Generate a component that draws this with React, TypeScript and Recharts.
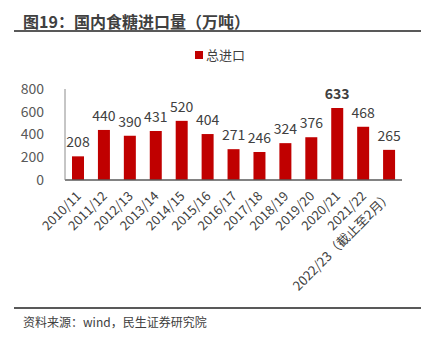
import { BarChart, Bar, XAxis, YAxis, LabelList, Legend } from 'recharts'

const seasons = [
  '2010/11', '2011/12', '2012/13', '2013/14', '2014/15', '2015/16', '2016/17',
  '2017/18', '2018/19', '2019/20', '2020/21', '2021/22', '2022/23（截止至2月）',
]
const imports = [208, 440, 390, 431, 520, 404, 271, 246, 324, 376, 633, 468, 265]
const yTicks = [0, 200, 400, 600, 800]

const data = seasons.map((season, i) => ({ season, imports: imports[i] }))

const FONT = '"Noto Sans CJK SC", "Noto Sans", sans-serif'

function SeasonTick({ x, y, payload }: any) {
  return (
    <text
      x={x + 4}
      y={y + 9}
      textAnchor="end"
      fontSize={13}
      fill="#404040"
      fontFamily={FONT}
      transform={`rotate(-45, ${x + 4}, ${y + 9})`}
    >
      {payload.value}
    </text>
  )
}

function ValueLabel({ x, y, width, value }: any) {
  const peak = value === Math.max(...imports)
  return (
    <text
      x={x + width / 2}
      y={y - 9}
      textAnchor="middle"
      fontSize={14}
      fontWeight={peak ? 700 : 400}
      fill="#404040"
      fontFamily={FONT}
    >
      {value}
    </text>
  )
}

function LegendBox() {
  return (
    <div style={{ display: 'flex', alignItems: 'center', justifyContent: 'center', paddingLeft: 10, fontSize: 13, color: '#404040', fontFamily: FONT }}>
      <span style={{ display: 'inline-block', width: 8, height: 8, background: '#C00000', marginRight: 3 }} />
      总进口
    </div>
  )
}

export default function App() {
  return (
    <div style={{ position: 'absolute', left: 0, top: 0, width: 430, height: 339, background: '#fff', fontFamily: FONT }}>
      <div style={{ position: 'absolute', left: 23, top: 9, fontSize: 16, fontWeight: 700, color: '#404040', whiteSpace: 'nowrap' }}>
        图19：国内食糖进口量（万吨）
      </div>
      <div style={{ position: 'absolute', left: 14, top: 30, width: 407, height: 2, background: '#595959' }} />
      <div style={{ position: 'absolute', left: 0, top: 0 }}>
        <BarChart width={430} height={300} data={data} margin={{ top: 70, right: 28, left: 0, bottom: 0 }}>
          <Legend content={<LegendBox />} verticalAlign="top" wrapperStyle={{ top: 45, left: 0, width: 430 }} />
          <XAxis
            dataKey="season"
            interval={0}
            height={120}
            tick={<SeasonTick />}
            tickLine={false}
            axisLine={{ stroke: '#595959', strokeWidth: 1.5 }}
          />
          <YAxis
            width={65}
            domain={[0, 800]}
            ticks={yTicks}
            tick={{ fontSize: 14, fill: '#595959', fontFamily: FONT }}
            tickLine={false}
            tickMargin={15}
            axisLine={{ stroke: '#8c8c8c' }}
          />
          <Bar dataKey="imports" name="总进口" fill="#C00000" barSize={12} isAnimationActive={false}>
            <LabelList dataKey="imports" content={<ValueLabel />} />
          </Bar>
        </BarChart>
      </div>
      <div style={{ position: 'absolute', left: 14, top: 307, width: 407, height: 2, background: '#595959' }} />
      <div style={{ position: 'absolute', left: 23, top: 313, fontSize: 12, color: '#404040', whiteSpace: 'nowrap' }}>
        资料来源：wind，民生证券研究院
      </div>
    </div>
  )
}
